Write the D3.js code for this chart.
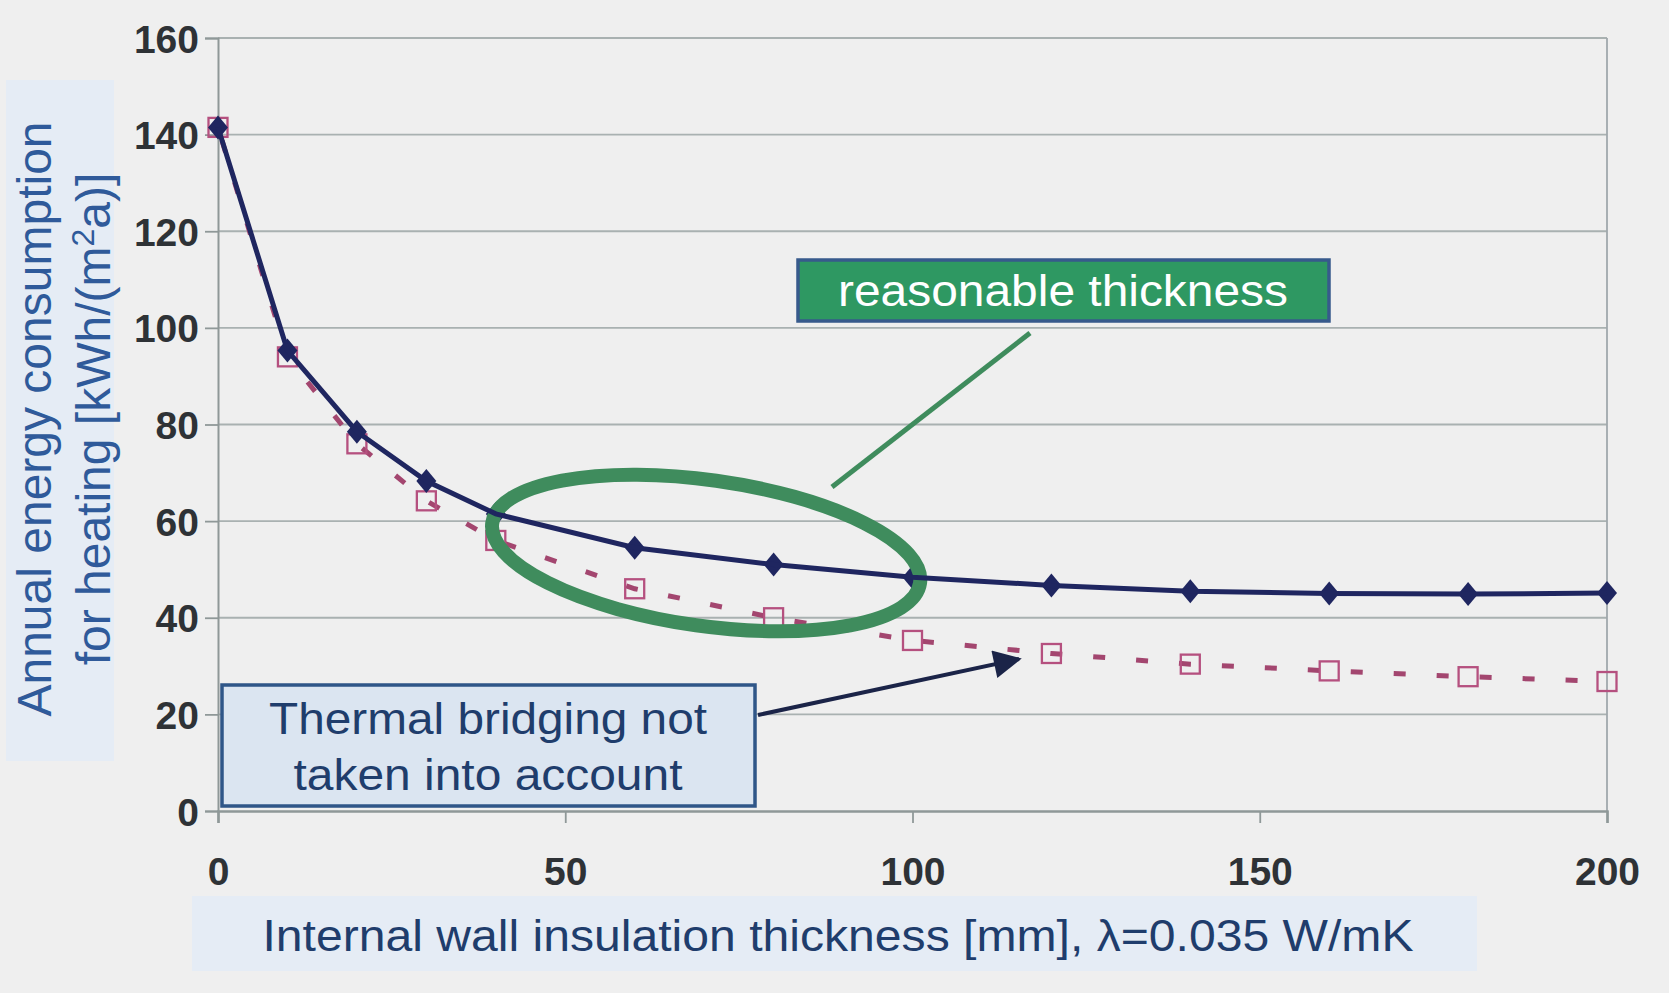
<!DOCTYPE html>
<html>
<head>
<meta charset="utf-8">
<script src="https://cdn.jsdelivr.net/npm/d3@7"></script>
<style>
  html, body { margin: 0; padding: 0; background: #efefef; }
  svg { display: block; }
</style>
</head>
<body>
<svg id="chart" width="1669" height="993"></svg>
<script>
// ---------- data ----------
const thickness = [0, 10, 20, 30, 40, 60, 80, 100, 120, 140, 160, 180, 200];
const withBridging = [141.5, 95.3, 78.5, 68.3, 61.5, 54.5, 51.0, 48.4, 46.7, 45.5, 45.0, 44.9, 45.1];
const withoutBridging = [141.5, 94.0, 76.0, 64.2, 56.0, 46.0, 40.0, 35.3, 32.6, 30.4, 29.0, 27.8, 26.8];
const xTicks = [0, 50, 100, 150, 200];
const yTicks = [0, 20, 40, 60, 80, 100, 120, 140, 160];
const xTitle = "Internal wall insulation thickness [mm], λ=0.035 W/mK";
const yTitle1 = "Annual energy consumption";
const yTitle2a = "for heating [kWh/(m";
const yTitle2b = "2";
const yTitle2c = "a)]";
const noteBridging = ["Thermal bridging not", "taken into account"];
const noteReasonable = "reasonable thickness";
const highlightRange = [40, 100]; // region circled as "reasonable thickness"

// ---------- setup ----------
const svg = d3.select("#chart");
const W = 1669, H = 993;
const plot = { left: 218, right: 1607, top: 38, bottom: 811 };

svg.append("rect").attr("x", 0).attr("y", 0).attr("width", W).attr("height", H).attr("fill", "#efefef");

const x = d3.scaleLinear().domain([0, 200]).range([plot.left, plot.right]);
const y = d3.scaleLinear().domain([0, 160]).range([plot.bottom, plot.top]);

// title backgrounds
svg.append("rect").attr("x", 6).attr("y", 80).attr("width", 108).attr("height", 681).attr("fill", "#e5ecf5");
svg.append("rect").attr("x", 192).attr("y", 896).attr("width", 1285).attr("height", 75).attr("fill", "#e5ecf5");

// grid lines
svg.append("g").selectAll("line").data(yTicks.filter(d => d > 0)).join("line")
  .attr("x1", plot.left).attr("x2", plot.right)
  .attr("y1", d => y(d)).attr("y2", d => y(d))
  .attr("stroke", "#a9b1b1").attr("stroke-width", 1.8);

// right border
svg.append("line").attr("x1", plot.right).attr("x2", plot.right).attr("y1", plot.top).attr("y2", plot.bottom)
  .attr("stroke", "#a0a8ac").attr("stroke-width", 1.8);

// axes
const yAxis = d3.axisLeft(y).tickValues(yTicks).tickSize(13).tickPadding(6).tickFormat(d3.format("d"));
const gy = svg.append("g").attr("transform", `translate(${plot.left},0)`).call(yAxis);
gy.select(".domain").attr("stroke", "#8f9898").attr("stroke-width", 2);
gy.selectAll(".tick line").attr("stroke", "#8f9898").attr("stroke-width", 1.8);
gy.selectAll(".tick text").attr("font-family", "Liberation Sans, Arial, sans-serif")
  .attr("font-weight", "bold").attr("font-size", 39).attr("fill", "#2e3236").attr("dy", "0.36em");

const xAxis = d3.axisBottom(x).tickValues(xTicks).tickSize(12).tickPadding(0).tickFormat(d3.format("d"));
const gx = svg.append("g").attr("transform", `translate(0,${plot.bottom})`).call(xAxis);
gx.select(".domain").attr("stroke", "#8f9898").attr("stroke-width", 2.5);
gx.selectAll(".tick line").attr("stroke", "#8f9898").attr("stroke-width", 1.8);
gx.selectAll(".tick text").attr("font-family", "Liberation Sans, Arial, sans-serif")
  .attr("font-weight", "bold").attr("font-size", 39).attr("fill", "#2e3236")
  .attr("dy", 0).attr("y", 74);

// ---------- series ----------
const dataA = thickness.map((t, i) => ({ t, v: withBridging[i] }));
const dataB = thickness.map((t, i) => ({ t, v: withoutBridging[i] }));
const line = d3.line().x(d => x(d.t)).y(d => y(d.v));

// dashed series (no thermal bridging)
svg.append("path").datum(dataB).attr("d", line)
  .attr("fill", "none").attr("stroke", "#a3466f").attr("stroke-width", 5)
  .attr("stroke-dasharray", "12,31").attr("stroke-dashoffset", -14);
svg.append("g").selectAll("rect").data(dataB).join("rect")
  .attr("x", d => x(d.t) - 9.5).attr("y", d => y(d.v) - 9.5)
  .attr("width", 19).attr("height", 19)
  .attr("fill", "none").attr("stroke", "#b5507f").attr("stroke-width", 2.3);

// solid series markers
const diamond = "M0,-12 L10,0 L0,12 L-10,0 Z";
svg.append("g").selectAll("path").data(dataA).join("path")
  .attr("d", diamond)
  .attr("transform", d => `translate(${x(d.t)},${y(d.v)})`)
  .attr("fill", "#1f2660");

// highlight ellipse
const exA = x(highlightRange[0]), exB = x(highlightRange[1]);
const ecx = (exA + exB) / 2 + 2;
svg.append("ellipse")
  .attr("cx", ecx).attr("cy", 553).attr("rx", 216).attr("ry", 73)
  .attr("transform", `rotate(8,${ecx},553)`)
  .attr("fill", "none").attr("stroke", "#3f8c5d").attr("stroke-width", 14);

// solid series line
svg.append("path").datum(dataA).attr("d", line)
  .attr("fill", "none").attr("stroke", "#1f2660").attr("stroke-width", 5);

// ---------- annotations ----------
// leader line for "reasonable thickness"
svg.append("line").attr("x1", 1030).attr("y1", 333).attr("x2", 832).attr("y2", 487)
  .attr("stroke", "#3f8c5d").attr("stroke-width", 5);

svg.append("rect").attr("x", 798).attr("y", 260).attr("width", 531).attr("height", 61)
  .attr("fill", "#2e9862").attr("stroke", "#375a8c").attr("stroke-width", 3.5);
svg.append("text").attr("x", 1063).attr("y", 306).attr("text-anchor", "middle")
  .attr("font-family", "Liberation Sans, Arial, sans-serif").attr("font-size", 45)
  .attr("fill", "#ffffff").attr("textLength", 450).attr("lengthAdjust", "spacingAndGlyphs")
  .text(noteReasonable);

// arrow
const defs = svg.append("defs");
defs.append("marker").attr("id", "arrow").attr("viewBox", "0 0 10 10")
  .attr("refX", 9).attr("refY", 5).attr("markerWidth", 8).attr("markerHeight", 7)
  .attr("markerUnits", "strokeWidth").attr("orient", "auto")
  .append("path").attr("d", "M0,0 L10,5 L0,10 Z").attr("fill", "#1b2448");
svg.append("line").attr("x1", 758).attr("y1", 715).attr("x2", 1019).attr("y2", 659)
  .attr("stroke", "#1b2448").attr("stroke-width", 4).attr("marker-end", "url(#arrow)");

svg.append("rect").attr("x", 222).attr("y", 685).attr("width", 533).attr("height", 121)
  .attr("fill", "#dbe5f1").attr("stroke", "#2f5688").attr("stroke-width", 3.5);
svg.selectAll("text.bridge").data(noteBridging).join("text").attr("class", "bridge")
  .attr("x", 488).attr("y", (d, i) => 734 + i * 56).attr("text-anchor", "middle")
  .attr("font-family", "Liberation Sans, Arial, sans-serif").attr("font-size", 45)
  .attr("fill", "#1f3d6c")
  .attr("textLength", (d, i) => i === 0 ? 438 : 389).attr("lengthAdjust", "spacingAndGlyphs")
  .text(d => d);

// ---------- axis titles ----------
svg.append("text").attr("x", 838).attr("y", 951).attr("text-anchor", "middle")
  .attr("font-family", "Liberation Sans, Arial, sans-serif").attr("font-size", 45)
  .attr("fill", "#1f3d6c").attr("textLength", 1151).attr("lengthAdjust", "spacingAndGlyphs")
  .text(xTitle);

const gyt = svg.append("g").attr("transform", "translate(0,419) rotate(-90)");
gyt.append("text").attr("x", 0).attr("y", 51).attr("text-anchor", "middle")
  .attr("font-family", "Liberation Sans, Arial, sans-serif").attr("font-size", 48)
  .attr("fill", "#2f5a9a").text(yTitle1);
const t2 = gyt.append("text").attr("x", 0).attr("y", 110).attr("text-anchor", "middle")
  .attr("font-family", "Liberation Sans, Arial, sans-serif").attr("font-size", 48)
  .attr("fill", "#2f5a9a");
t2.append("tspan").text(yTitle2a);
t2.append("tspan").attr("dy", -16).attr("font-size", 32).text(yTitle2b);
t2.append("tspan").attr("dy", 16).text(yTitle2c);
</script>
</body>
</html>
